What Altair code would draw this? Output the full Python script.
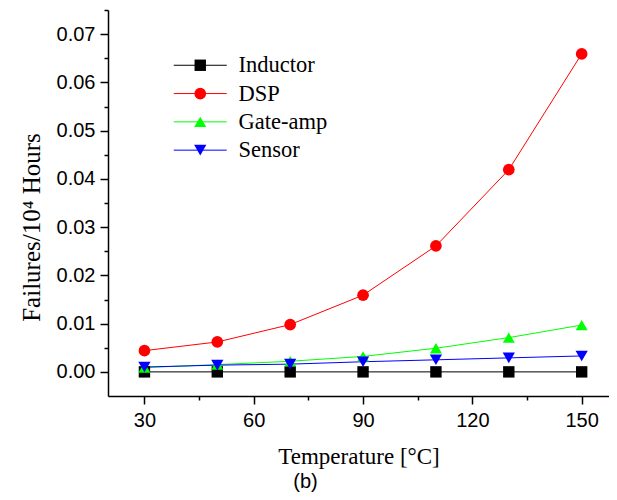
import altair as alt
import pandas as pd

temps = [30, 50, 70, 90, 110, 130, 150]
series_names = ["Inductor", "DSP", "Gate-amp", "Sensor"]
inductor = [0.0, 0.0, 0.0, 0.0, 0.0, 0.0, 0.0]
dsp = [0.0044, 0.0062, 0.0098, 0.0159, 0.0261, 0.0419, 0.0659]
gate_amp = [0.0009, 0.0015, 0.0022, 0.0032, 0.0049, 0.0071, 0.0097]
sensor = [0.0010, 0.0014, 0.0016, 0.0021, 0.0025, 0.0029, 0.0033]

colors = ["#000000", "#FF0000", "#00FF00", "#0000FF"]
shapes = ["square", "circle", "triangle-up", "triangle-down"]
marker_sizes = [130, 150, 200, 200]

x_major = [30, 60, 90, 120, 150]
x_minor = [45, 75, 105, 135]
y_major = [0.00, 0.01, 0.02, 0.03, 0.04, 0.05, 0.06, 0.07]
y_minor = [0.005, 0.015, 0.025, 0.035, 0.045, 0.055, 0.065, 0.075]

rows = []
for name, vals in zip(series_names, [inductor, dsp, gate_amp, sensor]):
    for t, v in zip(temps, vals):
        rows.append({"series": name, "line_key": name + " ", "temp": t, "rate": v})
df = pd.DataFrame(rows)
line_keys = [n + " " for n in series_names]

xscale = alt.Scale(domain=[20, 157.5], nice=False, zero=False)
yscale = alt.Scale(domain=[-0.005, 0.075], nice=False, zero=False)

common_axis = dict(grid=False, domainColor="black", domainWidth=1.5,
                   tickColor="black", tickWidth=1.5)

x_major_axis = alt.Axis(values=x_major, orient="bottom", tickSize=8,
                        labelFont="Liberation Sans", labelFontSize=20,
                        labelColor="black", labelPadding=6,
                        title="Temperature [°C]", titleFont="Liberation Serif",
                        titleFontSize=23, titleFontWeight="normal",
                        titleColor="black", titlePadding=15, **common_axis)
x_minor_axis = alt.Axis(values=x_minor, orient="bottom", tickSize=4,
                        labels=False, domain=False, title=None,
                        grid=False, tickColor="black", tickWidth=1.5)
y_major_axis = alt.Axis(values=y_major, orient="left", tickSize=8, format=".2f",
                        labelFont="Liberation Sans", labelFontSize=20,
                        labelColor="black", labelPadding=5,
                        title="Failures/10⁴ Hours", titleFont="Liberation Serif",
                        titleFontSize=25, titleFontWeight="normal",
                        titleColor="black", titlePadding=12, titleY=217,
                        **common_axis)
y_minor_axis = alt.Axis(values=y_minor, orient="left", tickSize=4,
                        labels=False, domain=False, title=None,
                        grid=False, tickColor="black", tickWidth=1.5)

# legend 1: line segments through the markers (labels hidden)
leg_lines = alt.Legend(title=None, orient="none", legendX=81, legendY=44,
                       symbolType="M-3.95,0H3.95", symbolSize=180,
                       symbolStrokeWidth=1,
                       labelExpr="''", labelFont="Liberation Serif",
                       labelFontSize=22.5, labelOffset=27, rowPadding=5.3)
# legend 2: filled markers with labels
leg_marks = alt.Legend(title=None, orient="none", legendX=81, legendY=44,
                       symbolSize=180, symbolOpacity=1, symbolStrokeWidth=0,
                       labelFont="Liberation Serif", labelFontSize=22.5,
                       labelColor="black", labelOffset=27, rowPadding=5.3)

base = alt.Chart(df)

lines = base.mark_line(strokeWidth=1).encode(
    x=alt.X("temp:Q", scale=xscale, axis=x_minor_axis),
    y=alt.Y("rate:Q", scale=yscale, axis=y_minor_axis),
    stroke=alt.Stroke("line_key:N", scale=alt.Scale(domain=line_keys, range=colors),
                      legend=leg_lines),
    detail="series:N",
)

points = base.mark_point(filled=True, opacity=1).encode(
    x=alt.X("temp:Q", scale=xscale, axis=x_major_axis),
    y=alt.Y("rate:Q", scale=yscale, axis=y_major_axis),
    color=alt.Color("series:N", scale=alt.Scale(domain=series_names, range=colors),
                    legend=leg_marks),
    shape=alt.Shape("series:N", scale=alt.Scale(domain=series_names, range=shapes),
                    legend=leg_marks),
    size=alt.Size("series:N", scale=alt.Scale(domain=series_names, range=marker_sizes),
                  legend=None),
)

chart = alt.layer(lines, points).resolve_axis(
    x="independent", y="independent"
).properties(
    width=501, height=386,
    autosize=alt.AutoSizeParams(type="none"),
    padding={"left": 100, "top": 2, "right": 0, "bottom": 96},
    title=alt.TitleParams("(b)", orient="bottom", font="Liberation Sans",
                          fontSize=20, fontWeight="normal", color="black",
                          dx=-53, offset=4),
).configure_view(stroke=None)

chart.save("out.html", embed_options={"renderer": "svg", "actions": False})
